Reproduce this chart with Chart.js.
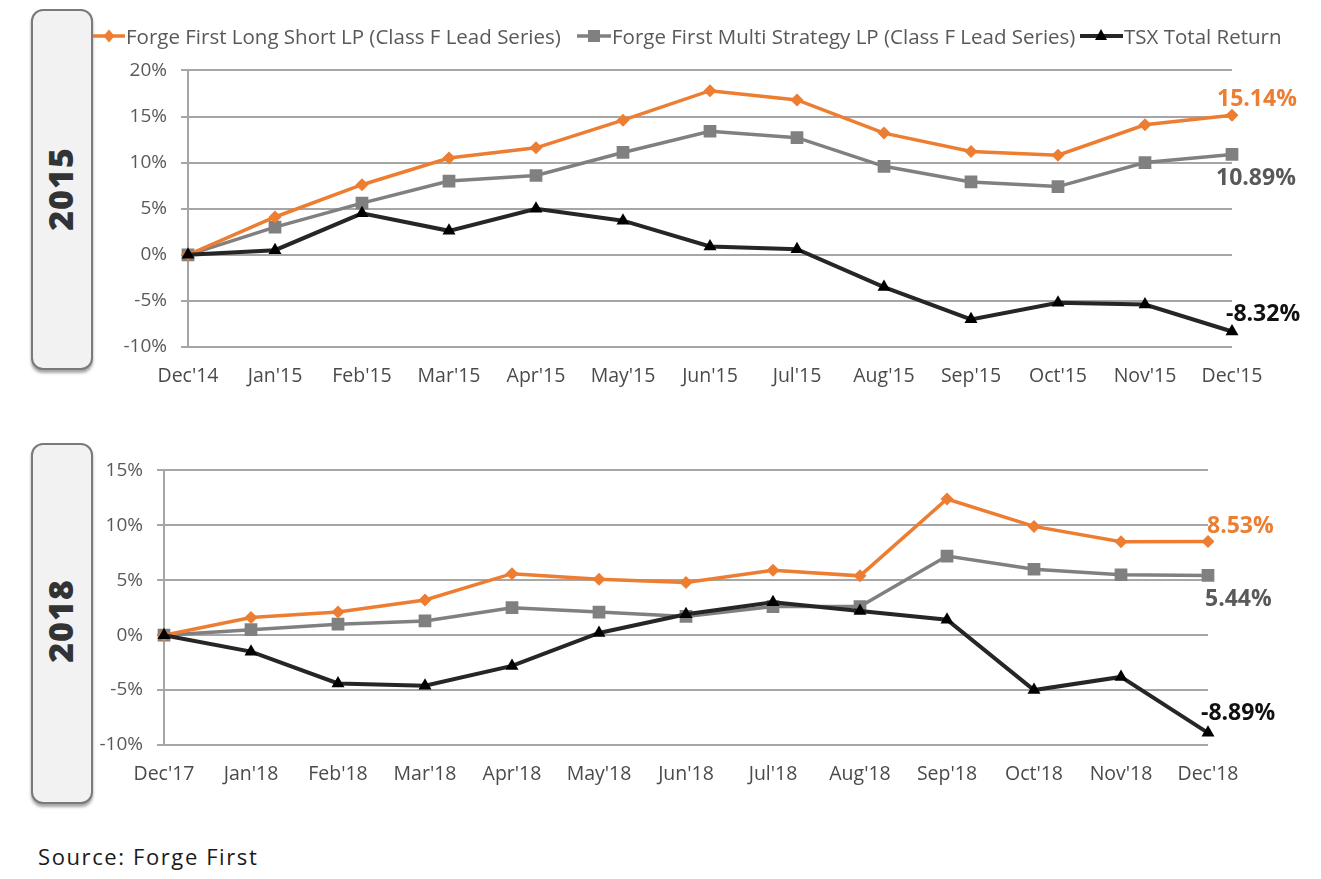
<!DOCTYPE html>
<html>
<head>
<meta charset="utf-8">
<script src="https://cdn.jsdelivr.net/npm/chart.js@4"></script>
<style>
  html, body { margin:0; padding:0; background:#fff; }
  body { width:1321px; height:879px; position:relative; overflow:hidden; font-family:"Open Sans", sans-serif; }
  .box { position:absolute; left:31px; width:58px; background:#f2f2f2; border:2px solid #7a7a7a; border-radius:12px; box-shadow:0 3px 3px rgba(0,0,0,0.35); }
  .yr { position:absolute; left:60px; transform:translate(-50%,-50%) rotate(-90deg); font-weight:800; font-size:34px; color:#333; letter-spacing:1px; }
  .wrap { position:absolute; left:0; width:1321px; }
  .lg { position:absolute; top:22px; display:flex; align-items:center; font-size:20.5px; color:#595959; white-space:nowrap; }
  .lg svg { margin-right:1px; }
  #source { position:absolute; left:38px; top:841px; font-size:22px; color:#1a1a1a; letter-spacing:1.6px; }
</style>
</head>
<body>
<div class="box" style="top:9px;height:357px;"></div>
<div class="yr" style="top:189px;">2015</div>
<div class="box" style="top:443px;height:357px;"></div>
<div class="yr" style="top:621px;">2018</div>

<div class="wrap" style="top:45px;height:352px;"><canvas id="c2015"></canvas></div>
<div class="wrap" style="top:445px;height:350px;"><canvas id="c2018"></canvas></div>

<div id="source">Source: Forge First</div>

<script>
// ---- data ----
const seriesNames = [
  "Forge First Long Short LP (Class F Lead Series)",
  "Forge First Multi Strategy LP (Class F Lead Series)",
  "TSX Total Return"
];
const labels2015 = ["Dec'14","Jan'15","Feb'15","Mar'15","Apr'15","May'15","Jun'15","Jul'15","Aug'15","Sep'15","Oct'15","Nov'15","Dec'15"];
const longShort2015 = [0, 4.1, 7.6, 10.5, 11.6, 14.6, 17.8, 16.8, 13.2, 11.2, 10.8, 14.1, 15.14];
const multiStrat2015 = [0, 3.0, 5.6, 8.0, 8.6, 11.1, 13.4, 12.7, 9.6, 7.9, 7.4, 10.0, 10.89];
const tsx2015 = [0, 0.5, 4.5, 2.6, 5.0, 3.7, 0.9, 0.6, -3.5, -7.0, -5.2, -5.4, -8.32];

const labels2018 = ["Dec'17","Jan'18","Feb'18","Mar'18","Apr'18","May'18","Jun'18","Jul'18","Aug'18","Sep'18","Oct'18","Nov'18","Dec'18"];
const longShort2018 = [0, 1.6, 2.1, 3.2, 5.6, 5.1, 4.8, 5.9, 5.4, 12.4, 9.9, 8.5, 8.53];
const multiStrat2018 = [0, 0.5, 1.0, 1.3, 2.5, 2.1, 1.7, 2.6, 2.6, 7.2, 6.0, 5.5, 5.44];
const tsx2018 = [0, -1.5, -4.4, -4.6, -2.8, 0.2, 1.9, 3.0, 2.2, 1.4, -5.0, -3.8, -8.89];

// ---- styles ----
const COLORS = ['#ED7D31', '#808080', '#262626'];
const LABEL_COLORS = ['#ED7D31', '#595959', '#111'];
const POINT_STYLES = ['rectRot', 'rect', 'triangle'];
const POINT_RADII = [6.5, 9, 7.5];

// legend (HTML, real text)
(function(){
  const lefts = [93, 577, 1080];
  const icons = [
    '<svg width="32" height="16"><line x1="0" y1="8" x2="32" y2="8" stroke="#ED7D31" stroke-width="3.5"/><polygon points="16,1.5 21.5,8 16,14.5 10.5,8" fill="#ED7D31"/></svg>',
    '<svg width="34" height="16"><line x1="0" y1="8" x2="34" y2="8" stroke="#808080" stroke-width="3.5"/><rect x="11" y="2" width="12" height="12" fill="#808080"/></svg>',
    '<svg width="43" height="16"><line x1="0" y1="8" x2="43" y2="8" stroke="#262626" stroke-width="4"/><polygon points="21,1 27,12 15,12" fill="#000"/></svg>'
  ];
  seriesNames.forEach((n,i)=>{
    const d = document.createElement('div'); d.className='lg';
    d.style.left = lefts[i] + 'px';
    d.innerHTML = icons[i] + '<span>' + n + '</span>';
    document.body.appendChild(d);
  });
})();

const endLabelPlugin = {
  id: 'endLabels',
  afterDatasetsDraw(chart, args, opts) {
    const ctx = chart.ctx;
    ctx.save();
    ctx.font = 'bold 23px "Open Sans"';
    ctx.textBaseline = 'middle';
    ctx.textAlign = 'left';
    chart.data.datasets.forEach((ds, i) => {
      const meta = chart.getDatasetMeta(i);
      const pt = meta.data[meta.data.length - 1];
      const v = ds.data[ds.data.length - 1];
      const off = opts.offsets[i];
      ctx.fillStyle = LABEL_COLORS[i];
      ctx.fillText(v.toFixed(2) + '%', pt.x + off[0], pt.y + off[1]);
    });
    ctx.restore();
  }
};

function makeChart(id, labels, series, ymin, ymax, axisX, rightPad, topPad, offsets) {
  const datasets = series.map((data, i) => ({
    label: seriesNames[i],
    data: data,
    borderColor: COLORS[i],
    backgroundColor: i === 2 ? '#000' : COLORS[i],
    pointBackgroundColor: i === 2 ? '#000' : COLORS[i],
    pointBorderColor: i === 2 ? '#000' : COLORS[i],
    pointBorderWidth: 0,
    borderWidth: i === 2 ? 4 : 3.5,
    pointStyle: POINT_STYLES[i],
    pointRadius: POINT_RADII[i],
    tension: 0,
    order: [2, 3, 1][i]
  }));
  return new Chart(document.getElementById(id), {
    type: 'line',
    data: { labels, datasets },
    plugins: [endLabelPlugin],
    options: {
      responsive: true,
      maintainAspectRatio: false,
      animation: false,
      layout: { padding: { top: topPad, right: rightPad, left: 0, bottom: 0 } },
      plugins: {
        legend: { display: false },
        tooltip: { enabled: false },
        endLabels: { offsets }
      },
      scales: {
        x: {
          offset: false,
          grid: { display: false, drawTicks: false },
          border: { display: false },
          ticks: { color: '#4a4a4a', font: { family: 'Open Sans', size: 19.5 }, padding: 18, maxRotation: 0, autoSkip: false },
          afterFit: s => { s.height = 50; }
        },
        y: {
          min: ymin, max: ymax,
          grid: { color: '#a6a6a6', lineWidth: 2, tickLength: 7, drawTicks: true },
          border: { display: true, color: '#a6a6a6', width: 2 },
          ticks: { stepSize: 5, color: '#595959', font: { family: 'Open Sans', size: 19 }, padding: 14,
                   callback: v => v + '%' },
          afterFit: s => { s.width = axisX; }
        }
      }
    }
  });
}

makeChart('c2015', labels2015, [longShort2015, multiStrat2015, tsx2015], -10, 20, 188, 89, 15,
  [[-15, -16], [-16, 24], [-6, -17]]);
makeChart('c2018', labels2018, [longShort2018, multiStrat2018, tsx2018], -10, 15, 164, 113, 16,
  [[-1, -15], [-3, 24], [-7, -19]]);
</script>
</body>
</html>
